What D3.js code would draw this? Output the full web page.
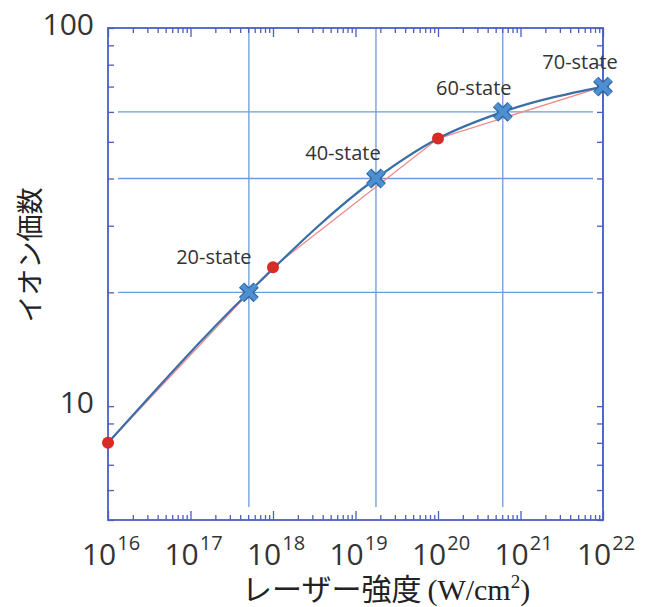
<!DOCTYPE html>
<html>
<head>
<meta charset="utf-8">
<script src="https://cdn.jsdelivr.net/npm/d3@7"></script>
<style>
    html, body { margin: 0; padding: 0; background: #fff; }
    svg { display: block; }
</style>
</head>
<body>
<div id="chart"></div>
<script>
(function()
{
    // data
    var blueX = [1e16, 5.1e17, 1.77e19, 1e20, 6.1e20, 1e22],
        blueY = [8, 20, 40, 51, 60, 70],
        redX = [1e16, 1e18, 1e20, 1e22],
        redY = [8, 23.3, 51, 70],
        stateX = [5.1e17, 1.77e19, 6.1e20, 1e22],
        stateY = [20, 40, 60, 70],
        stateLabels = ['20-state', '40-state', '60-state', '70-state'],
        xDecades = [1e16, 1e17, 1e18, 1e19, 1e20, 1e21, 1e22],
        xExponents = ['16', '17', '18', '19', '20', '21', '22'],
        yLabels = [10, 100],
        yGrid = [20, 40, 60];

    var W = 648, H = 607,
        left = 108, right = 603, top = 28, bottom = 520,
        axisColor = '#4b5fc0', gridColor = '#6c9bd9';

    var svg = d3.select('#chart').append('svg').attr('width', W).attr('height', H);

    var x = d3.scaleLog().domain([1e16, 1e22]).range([left, right]),
        y = d3.scaleLog().domain([5, 100]).range([bottom, top]);

    // minor tick values
    var xMinor = [], yMinor = [];
    xDecades.slice(0, -1).forEach(function(d)
    {
        for (var i = 2; i < 10; i++) xMinor.push(d * i);
    });
    [1, 10].forEach(function(d)
    {
        for (var i = 1; i < 10; i++) {
            if (d * i >= 5) yMinor.push(d * i);
        }
    });
    yMinor.push(100);

    // grid
    var grid = svg.append('g').attr('stroke', gridColor).attr('stroke-width', 1.3);
    grid.selectAll('line.v').data(stateX).enter().append('line')
        .attr('x1', function(d) { return x(d); })
        .attr('x2', function(d) { return x(d); })
        .attr('y1', top).attr('y2', bottom - 13);
    grid.selectAll('line.h').data(yGrid).enter().append('line')
        .attr('y1', function(d) { return y(d); })
        .attr('y2', function(d) { return y(d); })
        .attr('x1', left + 10).attr('x2', right - 10);

    // axes
    var styleAxis = function(g)
    {
        g.select('.domain').remove();
        g.selectAll('line').attr('stroke', axisColor).attr('stroke-width', 1.3);
    };

    svg.append('g').attr('transform', 'translate(0,' + bottom + ')')
        .call(d3.axisBottom(x).tickValues(xMinor).tickSize(-5).tickFormat('')).call(styleAxis);
    svg.append('g').attr('transform', 'translate(0,' + bottom + ')')
        .call(d3.axisBottom(x).tickValues(xDecades).tickSize(-9).tickFormat('')).call(styleAxis);
    svg.append('g').attr('transform', 'translate(0,' + top + ')')
        .call(d3.axisTop(x).tickValues(xMinor).tickSize(-5).tickFormat('')).call(styleAxis);
    svg.append('g').attr('transform', 'translate(0,' + top + ')')
        .call(d3.axisTop(x).tickValues(xDecades).tickSize(-9).tickFormat('')).call(styleAxis);
    svg.append('g').attr('transform', 'translate(' + left + ',0)')
        .call(d3.axisLeft(y).tickValues(yMinor).tickSize(-6).tickFormat('')).call(styleAxis);
    svg.append('g').attr('transform', 'translate(' + right + ',0)')
        .call(d3.axisRight(y).tickValues(yMinor).tickSize(-6).tickFormat('')).call(styleAxis);

    svg.append('rect')
        .attr('x', left).attr('y', top)
        .attr('width', right - left).attr('height', bottom - top)
        .attr('fill', 'none').attr('stroke', axisColor).attr('stroke-width', 1.8);

    // tick labels
    var xl = svg.append('g').attr('font-family', 'Open Sans, Noto Sans, sans-serif').attr('fill', '#333');
    xDecades.forEach(function(d, i)
    {
        var t = xl.append('text').attr('x', x(d) + 3).attr('y', 565).attr('text-anchor', 'middle');
        t.append('tspan').attr('font-size', 30).text('10');
        t.append('tspan').attr('font-size', 20).attr('dy', -15).attr('dx', 1).text(xExponents[i]);
    });
    svg.append('g').selectAll('text').data(yLabels).enter().append('text')
        .attr('x', 94)
        .attr('y', function(d) { return y(d) + 7; })
        .attr('text-anchor', 'end')
        .attr('font-family', 'Open Sans, Noto Sans, sans-serif')
        .attr('font-size', 30).attr('fill', '#333')
        .text(function(d) { return d; });

    // axis titles
    svg.append('text')
        .attr('transform', 'translate(40,255) rotate(-90)')
        .attr('text-anchor', 'middle')
        .attr('font-family', 'Noto Sans CJK JP, sans-serif')
        .attr('font-size', 27).attr('fill', '#222')
        .text('イオン価数');
    var xt = svg.append('text').attr('x', 242).attr('y', 600).attr('fill', '#222');
    xt.append('tspan').attr('font-family', 'Noto Sans CJK JP, sans-serif').attr('font-size', 30).text('レーザー強度');
    xt.append('tspan').attr('font-family', 'Liberation Serif, serif').attr('font-size', 30).attr('dx', 6).text('(W/cm');
    xt.append('tspan').attr('font-family', 'Liberation Serif, serif').attr('font-size', 19).attr('dy', -12).text('2');
    xt.append('tspan').attr('font-family', 'Liberation Serif, serif').attr('font-size', 30).attr('dy', 12).text(')');

    // lines
    var red = redX.map(function(d, i) { return [d, redY[i]]; }),
        blue = blueX.map(function(d, i) { return [d, blueY[i]]; });

    var line = d3.line()
        .x(function(d) { return x(d[0]); })
        .y(function(d) { return y(d[1]); });

    svg.append('path').datum(red)
        .attr('d', line.curve(d3.curveLinear))
        .attr('fill', 'none').attr('stroke', '#f08a8a').attr('stroke-width', 1.3);
    svg.append('path').datum(blue)
        .attr('d', line.curve(d3.curveMonotoneX))
        .attr('fill', 'none').attr('stroke', '#3a6ea8').attr('stroke-width', 2.2);

    // red dots
    svg.selectAll('circle.r').data(red).enter().append('circle')
        .attr('cx', function(d) { return x(d[0]); })
        .attr('cy', function(d) { return y(d[1]); })
        .attr('r', 6).attr('fill', '#d92b26');

    // X markers
    var sym = d3.symbol(d3.symbolTimes).size(140);
    var marks = svg.selectAll('g.m').data(stateX).enter().append('g')
        .attr('transform', function(d, i) { return 'translate(' + x(d) + ',' + y(stateY[i]) + ')'; });
    marks.append('path').attr('d', sym).attr('stroke', '#2f66a3').attr('stroke-width', 7.5).attr('fill', 'none');
    marks.append('path').attr('d', sym).attr('stroke', '#4d8fd0').attr('stroke-width', 5).attr('fill', 'none');

    // state labels
    var off = [[-35, -28], [-33, -18], [-29, -17], [-23, -18]];
    svg.selectAll('text.s').data(stateLabels).enter().append('text')
        .attr('x', function(d, i) { return x(stateX[i]) + off[i][0]; })
        .attr('y', function(d, i) { return y(stateY[i]) + off[i][1]; })
        .attr('text-anchor', 'middle')
        .attr('font-family', 'Open Sans, sans-serif')
        .attr('font-size', 20).attr('fill', '#333')
        .text(function(d) { return d; });
})();
</script>
</body>
</html>
